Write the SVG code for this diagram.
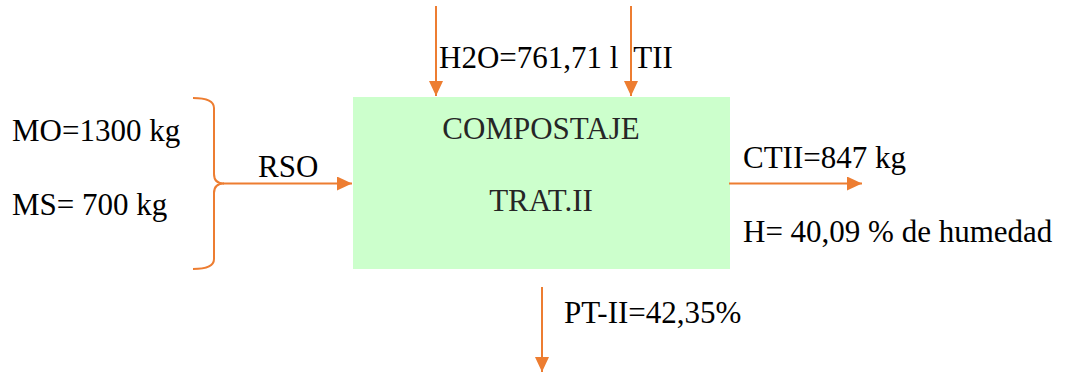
<svg xmlns="http://www.w3.org/2000/svg" width="1065" height="372" viewBox="0 0 1065 372">
  <style>
    .lbl { font-family: "Times New Roman", "Liberation Serif", Tinos, serif; font-size: 31px; fill: #000; }
    .inside { fill: #262626; }
    .ln { stroke: #ED7D31; stroke-width: 2; fill: none; }
  </style>
  <defs>
    <marker id="ah" markerUnits="userSpaceOnUse" markerWidth="16" markerHeight="14" refX="15" refY="7" orient="auto">
      <path d="M0,0 L15,7 L0,14 z" fill="#ED7D31"/>
    </marker>
  </defs>
  <rect width="1065" height="372" fill="#fff"/>

  <!-- process box -->
  <g id="compostaje">
    <rect x="353" y="97" width="377" height="172" fill="#CCFFCC"/>
    <text class="lbl inside" font-family="Times New Roman" x="541" y="139" text-anchor="middle">COMPOSTAJE</text>
    <text class="lbl inside" font-family="Times New Roman" x="541" y="211" text-anchor="middle">TRAT.II</text>
  </g>

  <!-- inputs on the left, gathered by a brace -->
  <g id="entradas">
    <text class="lbl" font-family="Times New Roman" x="12" y="141">MO=1300 kg</text>
    <text class="lbl" font-family="Times New Roman" x="12" y="215">MS= 700 kg</text>
    <path class="ln" d="M193,98 Q214,98 214,108 L214,174 Q214,183.5 224,183.5 Q214,183.5 214,193 L214,259 Q214,269 193,269"/>
    <text class="lbl" font-family="Times New Roman" x="258" y="177">RSO</text>
  </g>

  <g id="agua">
    <text class="lbl" font-family="Times New Roman" x="439" y="68" xml:space="preserve">H2O=761,71 l  TII</text>
  </g>

  <g id="salida-compost">
    <text class="lbl" font-family="Times New Roman" x="743" y="168">CTII=847 kg</text>
    <text class="lbl" font-family="Times New Roman" x="743" y="242">H= 40,09 % de humedad</text>
  </g>

  <g id="perdidas">
    <text class="lbl" font-family="Times New Roman" x="564" y="323">PT-II=42,35%</text>
  </g>

  <!-- flow connectors -->
  <g id="conectores">
    <line class="ln" x1="223" y1="183.5" x2="352" y2="183.5" marker-end="url(#ah)"/>
    <line class="ln" x1="436" y1="6" x2="436" y2="96" marker-end="url(#ah)"/>
    <line class="ln" x1="631" y1="6" x2="631" y2="96" marker-end="url(#ah)"/>
    <line class="ln" x1="729" y1="183.5" x2="862" y2="183.5" marker-end="url(#ah)"/>
    <line class="ln" x1="542" y1="287" x2="542" y2="372" marker-end="url(#ah)"/>
  </g>
</svg>
